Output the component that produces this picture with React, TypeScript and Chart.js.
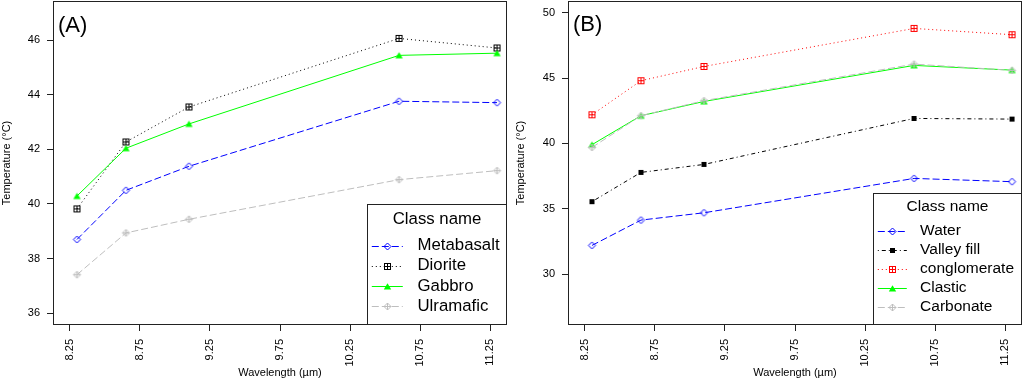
import React, { useEffect, useRef } from 'react';
import { Chart, registerables } from 'chart.js';
Chart.register(...registerables);

const FONT = "'Liberation Sans', Arial, Helvetica, sans-serif";

// ---- data ----
const wavelengths = [8.3, 8.65, 9.1, 10.6, 11.3];
const xTickValues = [8.25, 8.75, 9.25, 9.75, 10.25, 10.75, 11.25];
const xTickLabels = ['8.25', '8.75', '9.25', '9.75', '10.25', '10.75', '11.25'];
const yTicksA = [36, 38, 40, 42, 44, 46];
const yTicksB = [30, 35, 40, 45, 50];

const metabasalt = [38.7, 40.5, 41.38, 43.76, 43.71];
const diorite = [39.82, 42.27, 43.55, 46.06, 45.71];
const gabbro = [40.29, 42.04, 42.93, 45.44, 45.52];
const ulramafic = [37.41, 38.94, 39.44, 40.89, 41.22];

const water = [32.19, 34.13, 34.69, 37.32, 37.07];
const valleyFill = [35.54, 37.78, 38.39, 41.91, 41.86];
const conglomerate = [42.19, 44.8, 45.89, 48.8, 48.32];
const clastic = [39.9, 42.12, 43.21, 45.97, 45.61];
const carbonate = [39.69, 42.12, 43.27, 46.07, 45.59];

type Series = { name: string; data: number[]; color: string; dash: number[]; marker: string };

const seriesA: Series[] = [
  { name: 'Metabasalt', data: metabasalt, color: '#0000FF', dash: [7, 3], marker: 'diamond' },
  { name: 'Diorite', data: diorite, color: '#000000', dash: [1, 3], marker: 'squarePlus' },
  { name: 'Gabbro', data: gabbro, color: '#00FF00', dash: [], marker: 'triangle' },
  { name: 'Ulramafic', data: ulramafic, color: '#BEBEBE', dash: [7, 3], marker: 'diamondPlus' },
];
const seriesB: Series[] = [
  { name: 'Water', data: water, color: '#0000FF', dash: [7, 3], marker: 'diamond' },
  { name: 'Valley fill', data: valleyFill, color: '#000000', dash: [1, 3, 4, 3], marker: 'squareFilled' },
  { name: 'conglomerate', data: conglomerate, color: '#FF0000', dash: [1, 3], marker: 'squarePlus' },
  { name: 'Clastic', data: clastic, color: '#00FF00', dash: [], marker: 'triangle' },
  { name: 'Carbonate', data: carbonate, color: '#BEBEBE', dash: [7, 3], marker: 'diamondPlus' },
];

function makeMarker(kind: string, color: string): HTMLCanvasElement {
  const size = kind === 'squareFilled' ? 7 : kind === 'squarePlus' ? 9 : 11;
  const c = document.createElement('canvas');
  c.width = size;
  c.height = size;
  const g = c.getContext('2d')!;
  g.strokeStyle = color;
  g.fillStyle = color;
  g.lineWidth = 1;
  const m = size / 2;
  if (kind === 'diamond' || kind === 'diamondPlus') {
    g.beginPath();
    g.moveTo(m, m - 3.5);
    g.lineTo(m + 3.5, m);
    g.lineTo(m, m + 3.5);
    g.lineTo(m - 3.5, m);
    g.closePath();
    g.stroke();
    if (kind === 'diamondPlus') {
      g.beginPath();
      g.moveTo(m, m - 3.5);
      g.lineTo(m, m + 3.5);
      g.moveTo(m - 3.5, m);
      g.lineTo(m + 3.5, m);
      g.stroke();
    }
  } else if (kind === 'squarePlus') {
    g.strokeRect(1.5, 1.5, 6, 6);
    g.beginPath();
    g.moveTo(4.5, 1.5);
    g.lineTo(4.5, 7.5);
    g.moveTo(1.5, 4.5);
    g.lineTo(7.5, 4.5);
    g.stroke();
  } else if (kind === 'squareFilled') {
    g.fillRect(1, 1, 5, 5);
  } else if (kind === 'triangle') {
    g.beginPath();
    g.moveTo(5.5, 2.2);
    g.lineTo(9.2, 8.6);
    g.lineTo(1.8, 8.6);
    g.closePath();
    g.fill();
  }
  return c;
}

type PanelCfg = {
  tag: string;
  series: Series[];
  yMin: number;
  yMax: number;
  yTicks: number[];
  yAxisWidth: number;
  padRight: number;
  yTitlePad: number;
  tagX: number;
  tagY: number;
  legend: {
    w: number; h: number; titleDy: number; itemDy: number; step: number;
    lineX0: number; lineX1: number; markX: number; textX: number; font: number;
  };
};

const panelA: PanelCfg = {
  tag: '(A)', series: seriesA, yMin: 35.57, yMax: 47.43, yTicks: yTicksA,
  yAxisWidth: 53, padRight: 5, yTitlePad: 0.5, tagX: 58, tagY: 26,
  legend: { w: 139.5, h: 121, titleDy: 15, itemDy: 41, step: 20.2, lineX0: 4.3, lineX1: 35.3, markX: 19.5, textX: 50, font: 16.8 },
};
const panelB: PanelCfg = {
  tag: '(B)', series: seriesB, yMin: 26.1, yMax: 50.9, yTicks: yTicksB,
  yAxisWidth: 56, padRight: 2, yTitlePad: 2.8, tagX: 61, tagY: 25,
  legend: { w: 148.5, h: 131.7, titleDy: 13.7, itemDy: 37.7, step: 19, lineX0: 4.3, lineX1: 33.3, markX: 18.5, textX: 46.6, font: 15.5 },
};

function Panel({ cfg, left }: { cfg: PanelCfg; left: number }) {
  const ref = useRef<HTMLCanvasElement>(null);
  useEffect(() => {
    const canvas = ref.current!;
    const markers = cfg.series.map((s) => makeMarker(s.marker, s.color));
    const n = cfg.series.length;
    const datasets = cfg.series.map((s, i) => ({
      label: s.name,
      data: wavelengths.map((x, j) => ({ x, y: s.data[j] })),
      borderColor: s.color,
      backgroundColor: s.color,
      borderWidth: 1,
      borderDash: s.dash,
      pointStyle: markers[i],
      pointRadius: 4,
      pointHoverRadius: 4,
      tension: 0,
      fill: false,
      order: n - i,
    }));

    const boxPlugin = {
      id: 'boxAndLegend',
      afterDatasetsDraw(chart: any) {
        const ctx = chart.ctx as CanvasRenderingContext2D;
        const a = chart.chartArea;
        ctx.save();
        ctx.strokeStyle = '#222';
        ctx.lineWidth = 1;
        ctx.setLineDash([]);
        const L = Math.round(a.left) + 0.5;
        const T = Math.round(a.top) + 0.5;
        const R = Math.round(a.right) - 0.5;
        const B = Math.round(a.bottom) - 0.5;
        ctx.strokeRect(L, T, R - L, B - T);

        // panel tag
        ctx.fillStyle = '#000';
        ctx.font = `22px ${FONT}`;
        ctx.textAlign = 'left';
        ctx.textBaseline = 'middle';
        ctx.fillText(cfg.tag, cfg.tagX, cfg.tagY);

        // legend
        const lg = cfg.legend;
        const lx = Math.round(R - lg.w) + 0.5;
        const ly = Math.round(B - lg.h) + 0.5;
        ctx.fillStyle = '#fff';
        ctx.fillRect(lx, ly, R - lx, B - ly);
        ctx.strokeStyle = '#222';
        ctx.strokeRect(lx, ly, R - lx, B - ly);
        ctx.fillStyle = '#000';
        ctx.font = `${lg.font}px ${FONT}`;
        ctx.textAlign = 'center';
        ctx.fillText('Class name', lx + (R - lx) / 2, ly + lg.titleDy);
        ctx.textAlign = 'left';
        cfg.series.forEach((s, i) => {
          const y = ly + lg.itemDy + i * lg.step;
          ctx.strokeStyle = s.color;
          ctx.setLineDash(s.dash);
          ctx.beginPath();
          ctx.moveTo(lx + lg.lineX0, Math.round(y) + 0.5);
          ctx.lineTo(lx + lg.lineX1, Math.round(y) + 0.5);
          ctx.stroke();
          ctx.setLineDash([]);
          const mk = markers[i];
          ctx.drawImage(mk, Math.round(lx + lg.markX - mk.width / 2), Math.round(y + 0.5 - mk.height / 2));
          ctx.fillStyle = '#000';
          ctx.fillText(s.name, lx + lg.textX, y);
        });
        ctx.restore();
      },
    };

    const chart = new Chart(canvas, {
      type: 'line',
      data: { datasets } as any,
      options: {
        responsive: false,
        animation: false,
        events: [],
        layout: { autoPadding: false, padding: { left: 0, right: cfg.padRight, top: 1, bottom: 0 } },
        plugins: { legend: { display: false }, tooltip: { enabled: false } },
        scales: {
          x: {
            type: 'linear',
            min: 8.129,
            max: 11.371,
            afterBuildTicks: (s: any) => {
              s.ticks = xTickValues.map((v) => ({ value: v }));
            },
            afterFit: (s: any) => {
              s.height = 56;
              s.paddingLeft = 0;
              s.paddingRight = 0;
            },
            ticks: {
              callback: (_v: any, i: number) => xTickLabels[i],
              minRotation: 90,
              maxRotation: 90,
              autoSkip: false,
              padding: 8,
              color: '#000',
              font: { size: 11, family: FONT },
            },
            grid: { drawOnChartArea: false, drawTicks: true, tickLength: 6, color: '#222', lineWidth: 1 },
            border: { display: false },
            title: {
              display: true,
              text: 'Wavelength (µm)',
              color: '#000',
              font: { size: 11, family: FONT },
              padding: { top: 0, bottom: 1.4 },
            },
          },
          y: {
            type: 'linear',
            min: cfg.yMin,
            max: cfg.yMax,
            afterBuildTicks: (s: any) => {
              s.ticks = cfg.yTicks.map((v) => ({ value: v }));
            },
            afterFit: (s: any) => {
              s.width = cfg.yAxisWidth;
              s.paddingTop = 0;
              s.paddingBottom = 0;
            },
            ticks: {
              callback: (v: any) => String(v),
              padding: 7,
              color: '#000',
              font: { size: 11, family: FONT },
            },
            grid: { drawOnChartArea: false, drawTicks: true, tickLength: 6, color: '#222', lineWidth: 1 },
            border: { display: false },
            title: {
              display: true,
              text: 'Temperature (°C)',
              color: '#000',
              font: { size: 11, family: FONT },
              padding: { top: cfg.yTitlePad, bottom: 0 },
            },
          },
        },
      } as any,
      plugins: [boxPlugin],
    });
    return () => chart.destroy();
  }, [cfg]);
  return (
    <canvas
      ref={ref}
      width={512}
      height={381}
      style={{ position: 'absolute', left, top: 0, width: 512, height: 381, display: 'block' }}
    />
  );
}

export default function App() {
  return (
    <div style={{ position: 'fixed', left: 0, top: 0, width: 1024, height: 381, background: '#fff', overflow: 'hidden' }}>
      <Panel cfg={panelA} left={0} />
      <Panel cfg={panelB} left={512} />
    </div>
  );
}
